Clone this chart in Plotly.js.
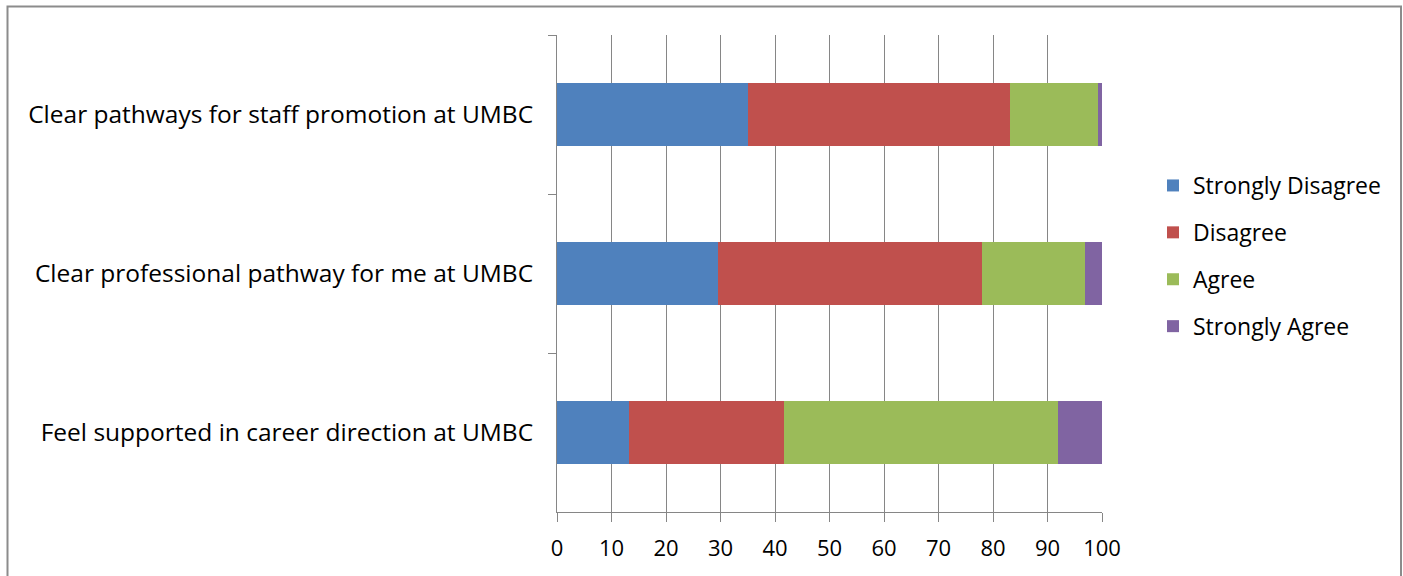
<!DOCTYPE html>
<html>
<head>
<meta charset="utf-8">
<script src="https://cdn.plot.ly/plotly-3.0.1.min.js"></script>
<style>
html,body{margin:0;padding:0;background:#fff;}
#chart{width:1403px;height:576px;}
</style>
</head>
<body>
<div id="chart"></div>
<script>
var categories = [
  "Clear pathways for staff promotion at UMBC",
  "Clear professional pathway for me at UMBC",
  "Feel supported in career direction at UMBC"
];
var seriesNames = ["Strongly Disagree", "Disagree", "Agree", "Strongly Agree"];
var stronglyDisagree = [35.0, 29.6, 13.3];
var disagree = [48.2, 48.4, 28.4];
var agree = [16.0, 18.9, 50.2];
var stronglyAgree = [0.8, 3.1, 8.1];
var xTicks = [0, 10, 20, 30, 40, 50, 60, 70, 80, 90, 100];

var colors = ["#4F81BD", "#C0504D", "#9BBB59", "#8064A2"];
var values = [stronglyDisagree, disagree, agree, stronglyAgree];

var data = seriesNames.map(function(name, i){
  return {
    type: "bar",
    orientation: "h",
    name: name,
    x: values[i],
    y: categories,
    legendgroup: "g" + i,
    marker: {color: colors[i], line: {width: 0}},
    hoverinfo: "x+name"
  };
});

var FONT = "'Open Sans', 'Noto Sans', sans-serif";
var L = 557, R = 1102, T = 35, B = 512;
var W = R - L, H = B - T;
function px(x){ return (x - L) / W; }
function py(y){ return (B - y) / H; }

var layout = {
  width: 1403,
  height: 576,
  margin: {l: L, r: 1403 - R, t: T, b: 576 - B, pad: 0},
  paper_bgcolor: "#ffffff",
  plot_bgcolor: "#ffffff",
  barmode: "stack",
  bargap: 0.6,
  font: {family: FONT, size: 22, color: "#000000"},
  showlegend: true,
  legend: {
    x: px(1153), xanchor: "left",
    y: py(256), yanchor: "middle",
    traceorder: "grouped",
    tracegroupgap: 14,
    font: {family: FONT, size: 23, color: "#000000"},
    bgcolor: "rgba(0,0,0,0)"
  },
  xaxis: {
    range: [0, 100],
    tickvals: xTicks,
    ticktext: xTicks.map(String),
    showgrid: true,
    gridcolor: "#868686",
    gridwidth: 1,
    showline: true,
    linecolor: "#868686",
    linewidth: 1,
    ticks: "outside",
    ticklen: 9,
    tickcolor: "#868686",
    ticklabelstandoff: 8,
    zeroline: false,
    tickfont: {family: FONT, size: 22, color: "#000000"},
    fixedrange: true
  },
  yaxis: {
    type: "category",
    categoryorder: "array",
    categoryarray: categories,
    autorange: "reversed",
    tickson: "boundaries",
    ticks: "outside",
    ticklen: 8,
    tickcolor: "#868686",
    ticklabelstandoff: 18,
    showline: true,
    linecolor: "#868686",
    linewidth: 1,
    showgrid: false,
    zeroline: false,
    tickfont: {family: FONT, size: 24.5, color: "#000000"},
    fixedrange: true
  },
  shapes: [{
    type: "rect", xref: "paper", yref: "paper",
    x0: px(7.5), x1: px(1401), y0: py(620), y1: py(6.5),
    line: {color: "#8c8c8c", width: 2},
    fillcolor: "rgba(0,0,0,0)", layer: "below"
  }]
};

Plotly.newPlot("chart", data, layout, {displayModeBar: false, staticPlot: true});
</script>
</body>
</html>
